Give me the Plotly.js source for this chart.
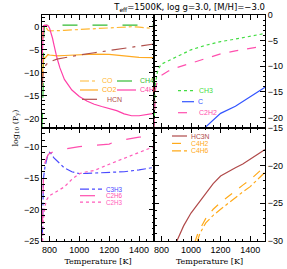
<!DOCTYPE html>
<html><head><meta charset="utf-8">
<script src="https://cdn.plot.ly/plotly-3.0.1.min.js"></script>
<style>html,body{margin:0;padding:0;background:#fff}#chart{width:287px;height:269px}</style>
</head><body><div id="chart"></div>
<script>
// ---- data: temperature [K] and log10 partial pressure per species ----
// top-left panel
const T_CO   = [750, 755, 760, 770, 780, 790, 800, 850, 900, 1000, 1100, 1200, 1300, 1350, 1400, 1450, 1500];
const lp_CO  = [-3, -0.5, 0.1, 0.1, -0.4, -0.8, -0.95, -0.95, -0.85, -0.65, -0.45, -0.25, -0.1, -0.05, -0.15, -0.3, -0.45];
const T_CO2  = [750, 755, 760, 770, 780, 790, 800, 850, 900, 1000, 1100, 1200, 1300, 1400, 1500];
const lp_CO2 = [-12, -7.5, -6.8, -6.9, -6.4, -6.1, -6.2, -6.4, -6.3, -6.1, -6.0, -6.05, -6.4, -6.7, -6.75];
const T_HCN  = [750, 755, 760, 770, 780, 800, 850, 900, 950, 1000, 1100, 1200, 1300, 1400, 1500];
const lp_HCN = [-13, -10.5, -9.5, -8.7, -8.2, -7.7, -7.1, -6.8, -6.45, -6.2, -5.7, -5.2, -4.7, -4.2, -3.8];
const T_CH4  = [750, 758, 762, 766, 780, 900, 1100, 1300, 1500];
const lp_CH4 = [-22, -13, -2, 0.1, 0.3, 0.3, 0.3, 0.3, 0.3];
const T_C4H  = [750, 755, 760, 770, 780, 790, 800, 810, 820, 830, 840, 850, 870, 900, 950, 1000, 1050, 1100, 1150, 1200, 1250, 1300, 1350, 1400, 1450, 1500];
const lp_C4H = [-8, -1, 0.2, 0.3, 0.3, 0.2, -0.3, -1.2, -2.5, -4, -5.5, -6.8, -9, -11.5, -13.8, -15.2, -16.2, -16.9, -17.4, -17.8, -18.3, -19, -19.4, -19.4, -19.2, -18.9];
// top-right panel
const T_CH3   = [750, 755, 760, 770, 780, 800, 850, 900, 1000, 1100, 1200, 1300, 1400, 1500];
const lp_CH3  = [-22, -17, -13.5, -11.5, -10.5, -9.6, -8.9, -8.1, -6.8, -5.9, -5.2, -4.7, -4.1, -3.6];
const T_C     = [1090, 1120, 1150, 1185, 1200, 1300, 1400, 1500];
const lp_C    = [-22.1, -21.3, -20.5, -19.5, -19.2, -17.8, -16.0, -14.1];
const T_C2H2  = [750, 755, 760, 770, 780, 800, 850, 900, 1000, 1100, 1200, 1300, 1400, 1500];
const lp_C2H2 = [-22, -17, -14.5, -13.2, -12.5, -11.8, -10.9, -10.3, -9.4, -8.5, -7.6, -7.0, -6.5, -6.0];
// bottom-left panel
const T_C3H3  = [750, 755, 760, 770, 780, 790, 800, 810, 830, 850, 875, 900, 950, 1000, 1050, 1100, 1200, 1300, 1400, 1500];
const lp_C3H3 = [-27, -18, -15, -13.2, -12, -11.2, -10.9, -11.1, -11.8, -12.3, -12.9, -13.4, -14.0, -14.3, -14.25, -14.2, -14.1, -14.0, -13.7, -13.3];
const T_C2H6  = [750, 755, 760, 770, 780, 790, 800, 850, 900, 1000, 1100, 1200, 1220, 1300, 1400, 1500];
const lp_C2H6 = [-27, -17, -14, -12.5, -11.7, -11.3, -11.1, -10.6, -10.4, -10.0, -9.8, -9.6, -9.4, -8.9, -8.5, -8.35];
const T_C2H3  = [750, 755, 760, 770, 780, 800, 850, 900, 950, 1000, 1050, 1100, 1200, 1300, 1400, 1500];
const lp_C2H3 = [-27, -23.5, -21.5, -19.5, -18.5, -17.8, -17.1, -16.4, -15.2, -14.3, -14.0, -13.8, -12.8, -11.9, -11.0, -10.0];
// bottom-right panel
const T_HC3N  = [900, 950, 1000, 1050, 1100, 1150, 1200, 1250, 1300, 1350, 1400, 1450, 1500];
const lp_HC3N = [-30.2, -28, -26.3, -25, -23.6, -22.4, -21.4, -20.8, -20.3, -19.8, -19.2, -18.6, -17.9];
const T_C4H2  = [1025, 1050, 1100, 1150, 1200, 1250, 1300, 1350, 1400, 1450, 1500];
const lp_C4H2 = [-30.2, -28.8, -27.0, -25.8, -24.9, -24.1, -23.3, -22.6, -21.9, -21.0, -20.1];
const T_C4H6  = [1040, 1060, 1100, 1150, 1200, 1250, 1300, 1350, 1400, 1450, 1500];
const lp_C4H6 = [-30.2, -29, -27.6, -26.6, -25.8, -25.0, -24.2, -23.5, -22.8, -21.9, -20.9];

const xTickVals = [800, 1000, 1200, 1400];
const titleText = 'T<sub>eff</sub>=1500K, log g=3.0, [M/H]=\u22123.0';
const xTitle = 'Temperature [K]';
const yTitle = 'log<sub>10</sub> (P<sub>y</sub>)';

// ---- styling / placement ----
const W = 287, H = 269;
const px = x => x / W, py = y => 1 - y / H;
const series = [
  {name:'CO',   T:T_CO,   v:lp_CO,   c:'#ffb733', d:'dashdot',     p:1, lx:80,  ly:81,    lw:18, fs:7},
  {name:'CH4',  T:T_CH4,  v:lp_CH4,  c:'#33bb33', d:'longdash',    p:1, lx:117, ly:81,    lw:19, fs:7},
  {name:'CO2',  T:T_CO2,  v:lp_CO2,  c:'#ffaa22', d:'solid',       p:1, lx:80,  ly:90,    lw:18, fs:7},
  {name:'C4H',  T:T_C4H,  v:lp_C4H,  c:'#ff3fa8', d:'solid',       p:1, lx:117, ly:90,    lw:19, fs:7},
  {name:'HCN',  T:T_HCN,  v:lp_HCN,  c:'#b0504c', d:'longdashdot', p:1, lx:82,  ly:99.3,  lw:21, fs:7},
  {name:'CH3',  T:T_CH3,  v:lp_CH3,  c:'#44dd44', d:'dot',         p:2, lx:178, ly:90.7,  lw:17, fs:7},
  {name:'C',    T:T_C,    v:lp_C,    c:'#3355ff', d:'solid',       p:2, lx:182, ly:101.7, lw:12, fs:7},
  {name:'C2H2', T:T_C2H2, v:lp_C2H2, c:'#ff4fae', d:'dash',        p:2, lx:178, ly:112.7, lw:17, fs:7},
  {name:'C3H3', T:T_C3H3, v:lp_C3H3, c:'#4a4aff', d:'dashdot',     p:3, lx:80,  ly:189.2, lw:22, fs:6.3},
  {name:'C2H6', T:T_C2H6, v:lp_C2H6, c:'#ff4fae', d:'longdash',    p:3, lx:80,  ly:195.7, lw:22, fs:6.3},
  {name:'C2H3', T:T_C2H3, v:lp_C2H3, c:'#ff5cbb', d:'dot',         p:3, lx:80,  ly:202.2, lw:22, fs:6.3},
  {name:'HC3N', T:T_HC3N, v:lp_HC3N, c:'#b04a4a', d:'solid',       p:4, lx:172, ly:136,   lw:15, fs:6.8},
  {name:'C4H2', T:T_C4H2, v:lp_C4H2, c:'#ffaa1a', d:'dash',        p:4, lx:172, ly:143.4, lw:15, fs:6.8},
  {name:'C4H6', T:T_C4H6, v:lp_C4H6, c:'#ffaa1a', d:'dashdot',     p:4, lx:172, ly:150.8, lw:15, fs:6.8},
];
const axn = ['', '', '2', '3', '4'];
const traces = series.map(s => ({
  type:'scatter', mode:'lines', x:s.T, y:s.v, name:s.name,
  xaxis:'x'+axn[s.p], yaxis:'y'+axn[s.p],
  line:{color:s.c, dash:s.d, width:1.2}, showlegend:false, hoverinfo:'skip'
}));
const shapes = [], annotations = [];
series.forEach(s => {
  shapes.push({type:'line', xref:'paper', yref:'paper', x0:px(s.lx), x1:px(s.lx+s.lw), y0:py(s.ly), y1:py(s.ly),
    line:{color:s.c, width:1.2, dash:s.d}});
  annotations.push({xref:'paper', yref:'paper', x:px(s.lx+s.lw+3), y:py(s.ly), xanchor:'left', yanchor:'middle',
    text:s.name, showarrow:false, font:{family:'Liberation Sans, Arial, sans-serif', size:s.fs, color:s.c}, borderpad:0});
});
annotations.push({xref:'paper', yref:'paper', x:px(8), y:py(128), textangle:-90, text:yTitle, showarrow:false,
  font:{family:'DejaVu Serif, serif', size:8, color:'#000'}});

const tickFont = {family:'Liberation Sans, Arial, sans-serif', size:9, color:'#000'};
const base = {showline:true, linecolor:'#000', linewidth:1, mirror:'ticks', ticks:'inside', ticklen:5, tickwidth:1,
  tickcolor:'#000', showgrid:false, zeroline:false, tickfont:tickFont, automargin:false};
const xMinor = {ticks:'inside', ticklen:2.5, dtick:50, tick0:0, tickcolor:'#000', showgrid:false};
const yMinor = {ticks:'inside', ticklen:2.5, dtick:1, tick0:0, tickcolor:'#000', showgrid:false};
const dL = [px(42), px(154)], dR = [px(154), px(265)];
const dT = [py(127.7), py(15)], dB = [py(241), py(127.7)];
const xt = {text:xTitle, font:{family:'DejaVu Serif, serif', size:8, color:'#000'}, standoff:4};
const layout = {
  width:W, height:H, margin:{l:0, r:0, t:0, b:0}, paper_bgcolor:'#fff', plot_bgcolor:'#fff', showlegend:false,
  title:{text:titleText, x:px(265), xanchor:'right', xref:'container', y:1-7.5/H, yref:'container', yanchor:'middle',
    font:{family:'DejaVu Sans, sans-serif', size:8.5, color:'#000'}},
  xaxis: {...base, domain:dL, anchor:'y',  range:[750,1500], tickvals:xTickVals, showticklabels:false, minor:xMinor},
  xaxis2:{...base, domain:dR, anchor:'y2', range:[750,1500], tickvals:xTickVals, showticklabels:false, minor:xMinor},
  xaxis3:{...base, domain:dL, anchor:'y3', range:[750,1500], tickvals:xTickVals, minor:xMinor, title:xt},
  xaxis4:{...base, domain:dR, anchor:'y4', range:[750,1500], tickvals:xTickVals, minor:xMinor, title:xt},
  yaxis: {...base, domain:dT, anchor:'x',  range:[-22,2.5], dtick:5, tick0:0, minor:yMinor},
  yaxis2:{...base, domain:dT, anchor:'x2', range:[-22,0],   dtick:5, tick0:0, minor:yMinor, side:'right'},
  yaxis3:{...base, domain:dB, anchor:'x3', range:[-25,-7],  dtick:5, tick0:0, minor:yMinor},
  yaxis4:{...base, domain:dB, anchor:'x4', range:[-30,-15], dtick:5, tick0:0, minor:yMinor, side:'right'},
  shapes, annotations
};
Plotly.newPlot('chart', traces, layout, {displayModeBar:false, staticPlot:true});
</script></body></html>
